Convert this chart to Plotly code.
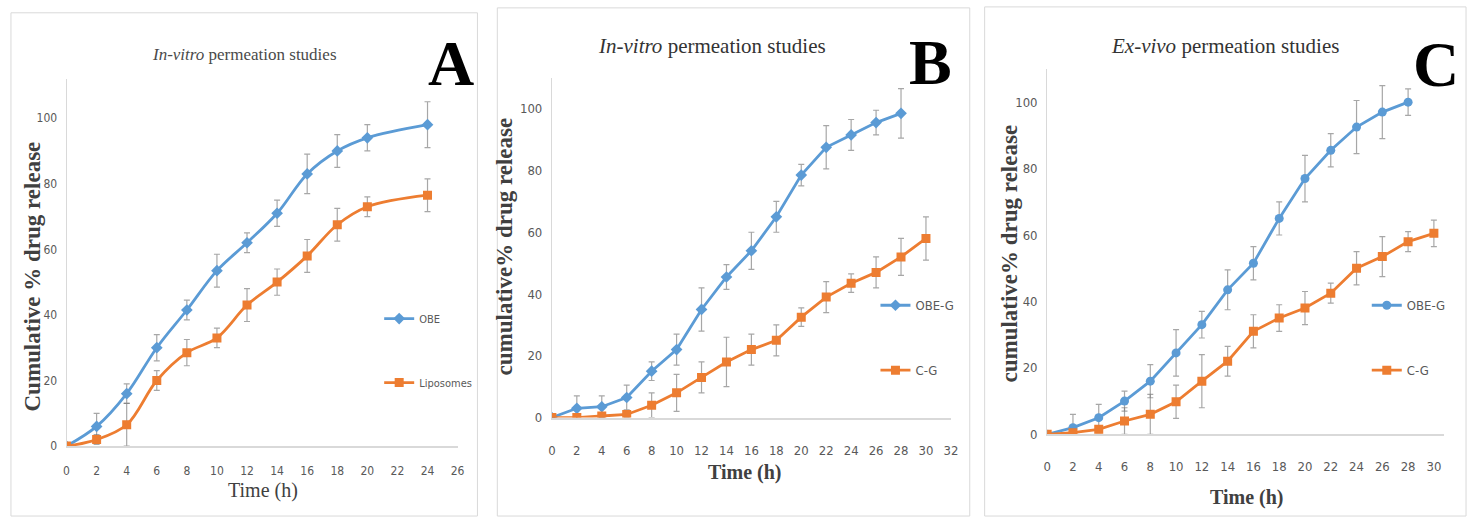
import plotly.graph_objects as go

W, H = 1477, 526


def px(x):
    return x / W


def py(y):
    return 1 - y / H


# ---------------- data ----------------
# Panel A: In-vitro permeation (OBE vs Liposomes)
a_time = [0, 2, 4, 6, 8, 10, 12, 14, 16, 18, 20, 24]
a_obe = [0, 6, 16, 30, 41.5, 53.5, 62, 71, 83, 90, 94, 98]
a_obe_err = [0, 4, 3, 4, 3, 5, 3, 4, 6, 5, 4, 7]
a_lip = [0, 2, 6.5, 20, 28.5, 33, 43, 50, 58, 67.5, 73, 76.5]
a_lip_err = [0, 1.5, 6.5, 3, 4, 3, 5, 4, 5, 5, 3, 5]

# Panel B: In-vitro permeation (OBE-G vs C-G)
b_time_obe = [0, 2, 4, 6, 8, 10, 12, 14, 16, 18, 20, 22, 24, 26, 28]
b_obe = [0, 3, 3.5, 6.5, 15, 22, 35, 45.5, 54, 65, 78.5, 87.5, 91.5, 95.5, 98.5]
b_obe_err = [0, 4, 3.5, 4, 3, 5, 7, 4, 6, 5, 3.5, 7, 5, 4, 8]
b_time_cg = [0, 2, 4, 6, 8, 10, 12, 14, 16, 18, 20, 22, 24, 26, 28, 30]
b_cg = [0, 0, 0.5, 1, 4, 8, 13, 18, 22, 25, 32.5, 39, 43.5, 47, 52, 58]
b_cg_err = [0, 0.5, 0.5, 1, 4, 6, 5, 8, 5, 5, 3, 5, 3, 5, 6, 7]

# Panel C: Ex-vivo permeation (OBE-G vs C-G)
c_time_obe = [0, 2, 4, 6, 8, 10, 12, 14, 16, 18, 20, 22, 24, 26, 28]
c_obe = [0, 2, 5, 10, 16, 24.5, 33, 43.5, 51.5, 65, 77, 85.5, 92.5, 97, 100]
c_obe_err = [0, 4, 4, 3, 5, 7, 4, 6, 5, 5, 7, 5, 8, 8, 4]
c_time_cg = [0, 2, 4, 6, 8, 10, 12, 14, 16, 18, 20, 22, 24, 26, 28, 30]
c_cg = [0, 0.5, 1.5, 4, 6, 9.8, 16, 22, 31, 35, 38, 42.5, 50, 53.5, 58, 60.5]
c_cg_err = [0, 1, 1, 4, 6, 5, 8, 4.5, 5, 4, 5, 3, 5, 6, 3, 4]

x_ticks_a = [0, 2, 4, 6, 8, 10, 12, 14, 16, 18, 20, 22, 24, 26]
x_ticks_b = [0, 2, 4, 6, 8, 10, 12, 14, 16, 18, 20, 22, 24, 26, 28, 30, 32]
x_ticks_c = [0, 2, 4, 6, 8, 10, 12, 14, 16, 18, 20, 22, 24, 26, 28, 30]
y_ticks = [0, 20, 40, 60, 80, 100]

BLUE = "#5B9BD5"
ORANGE = "#ED7D31"
ERR = "rgba(120,120,120,0.65)"
NARROW = "DejaVu Sans Condensed, Liberation Sans Narrow, Liberation Sans, Arial"
SERIF = "Liberation Serif, Times New Roman, serif"

fig = go.Figure()


def add(x, y, err, name, color, symbol, xa, ya, legend, group, shape="linear"):
    fig.add_trace(go.Scatter(
        x=x, y=y, name=name, mode="lines+markers",
        line=dict(color=color, width=2.8, shape=shape),
        marker=dict(color=color, symbol=symbol, size=9),
        error_y=dict(type="data", array=err, visible=True, color=ERR, thickness=1.2, width=3),
        xaxis=xa, yaxis=ya, legend=legend, legendgroup=group,
    ))


add(a_time, a_obe, a_obe_err, "OBE", BLUE, "diamond", "x", "y", "legend", "a1", "spline")
add(a_time, a_lip, a_lip_err, "Liposomes", ORANGE, "square", "x", "y", "legend", "a2", "spline")
add(b_time_obe, b_obe, b_obe_err, "OBE-G", BLUE, "diamond", "x2", "y2", "legend2", "b1")
add(b_time_cg, b_cg, b_cg_err, "C-G", ORANGE, "square", "x2", "y2", "legend2", "b2")
add(c_time_obe, c_obe, c_obe_err, "OBE-G", BLUE, "circle", "x3", "y3", "legend3", "c1")
add(c_time_cg, c_cg, c_cg_err, "C-G", ORANGE, "square", "x3", "y3", "legend3", "c2")


def xaxis(domain, rng, ticks, anchor, standoff, size):
    return dict(domain=domain, range=rng, tickvals=ticks, anchor=anchor,
                showgrid=False, zeroline=False, showline=True, linecolor="#D9D9D9",
                linewidth=2, ticks="", ticklabelstandoff=standoff,
                tickfont=dict(family=NARROW, size=size, color="#595959"),
                fixedrange=True)


def yaxis(domain, rng, anchor, size):
    return dict(domain=domain, range=rng, tickvals=y_ticks, anchor=anchor,
                showgrid=False, zeroline=False, showline=True, linecolor="#D9D9D9",
                linewidth=1, ticks="", ticklabelstandoff=6,
                tickfont=dict(family=NARROW, size=size, color="#595959"),
                fixedrange=True)


layout = dict(
    width=W, height=H, margin=dict(l=0, r=0, t=0, b=0),
    paper_bgcolor="white", plot_bgcolor="white",
    xaxis=xaxis([px(63), px(457)], [0, 26], x_ticks_a, "y", 12, 12),
    yaxis=yaxis([py(453), py(80)], [0, 112], "x", 12),
    xaxis2=xaxis([px(552), px(954)], [0, 32], x_ticks_b, "y2", 20, 13),
    yaxis2=yaxis([py(424), py(79)], [0, 110], "x2", 13),
    xaxis3=xaxis([px(1051), px(1451)], [0, 30.8], x_ticks_c, "y3", 19, 13),
    yaxis3=yaxis([py(441), py(70)], [0, 110], "x3", 13),
    showlegend=True,
)

for key, lx, ly, fs in [("legend", 378, 356, 11), ("legend2", 878, 343, 13), ("legend3", 1373, 343, 13)]:
    layout[key] = dict(x=px(lx), y=py(ly), xanchor="left", yanchor="middle",
                       bgcolor="rgba(0,0,0,0)", itemwidth=30, tracegroupgap=45,
                       font=dict(family=NARROW, size=fs, color="#595959"))

fig.update_layout(**layout)

# panel borders
for x0, y0, x1 in [(7, 13, 477), (497, 8, 973), (988, 7, 1473)]:
    fig.add_shape(type="rect", xref="paper", yref="paper",
                  x0=px(x0), y0=py(524), x1=px(x1), y1=py(y0),
                  line=dict(color="#D9D9D9", width=1), fillcolor="rgba(0,0,0,0)", layer="below")

ann = []
# titles
ann.append(dict(text="<i>In-vitro</i> permeation studies", x=px(242), y=py(55),
                font=dict(family=SERIF, size=17, color="#4a4a4a")))
ann.append(dict(text="<i>In-vitro</i> permeation studies", x=px(713), y=py(47),
                font=dict(family=SERIF, size=21, color="#333333")))
ann.append(dict(text="<i>Ex-vivo</i> permeation studies", x=px(1230), y=py(47),
                font=dict(family=SERIF, size=21, color="#333333")))
# panel letters
for t, x, y in [("A", 450, 64), ("B", 933, 63), ("C", 1443, 65)]:
    ann.append(dict(text="<b>%s</b>" % t, x=px(x), y=py(y),
                    font=dict(family=SERIF, size=64, color="black")))
# y-axis titles
for t, x, y in [("Cumulative % drug release", 29, 281),
                ("cumulative% drug release", 504, 250),
                ("cumulative% drug release", 1013, 257)]:
    ann.append(dict(text="<b>%s</b>" % t, x=px(x), y=py(y), textangle=-90,
                    font=dict(family=SERIF, size=23, color="#404040")))
# x-axis titles
for t, x, y in [("Time (h)", 261, 498), ("<b>Time (h)</b>", 747, 480), ("<b>Time (h)</b>", 1252, 505)]:
    ann.append(dict(text=t, x=px(x), y=py(y),
                    font=dict(family=SERIF, size=20, color="#404040")))

for a in ann:
    a.update(xref="paper", yref="paper", showarrow=False, xanchor="center", yanchor="middle")
fig.update_layout(annotations=ann)

fig.write_html("out.html")
